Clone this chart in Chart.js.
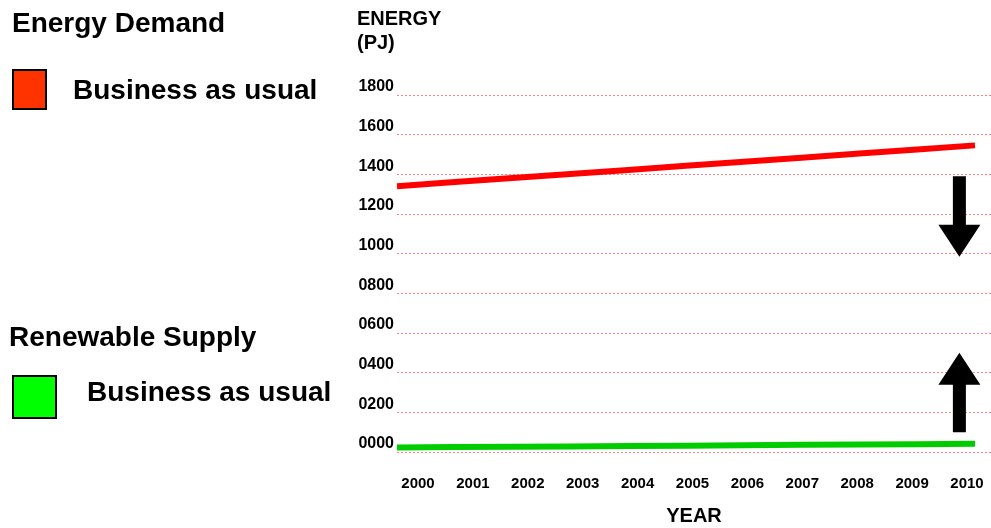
<!DOCTYPE html>
<html>
<head>
<meta charset="utf-8">
<title>Energy Demand and Renewable Supply</title>
<script src="https://cdn.jsdelivr.net/npm/chart.js@4.4.1/dist/chart.umd.min.js"></script>
<style>
  html, body { margin: 0; padding: 0; background: #fff; }
  #wrap {
    position: relative; width: 991px; height: 528px; overflow: hidden;
    font-family: "Liberation Sans", Arial, sans-serif; font-weight: bold; color: #000;
  }
  #wrap canvas { position: absolute; left: 0; top: 0; }
  .lbl { position: absolute; font-size: 28px; line-height: 28px; white-space: nowrap; }
  .sw { position: absolute; box-sizing: border-box; border: 2px solid #000; }
</style>
</head>
<body>
<div id="wrap">
  <canvas id="chart" width="991" height="528"></canvas>

  <div class="lbl" style="left:12px; top:9px;">Energy Demand</div>
  <div class="sw" style="left:12px; top:69px; width:35px; height:41px; background:#ff3300;"></div>
  <div class="lbl" style="left:73px; top:76px;">Business as usual</div>

  <div class="lbl" style="left:9px; top:323px;">Renewable Supply</div>
  <div class="sw" style="left:12px; top:375px; width:45px; height:44px; background:#00ff00;"></div>
  <div class="lbl" style="left:87px; top:378px;">Business as usual</div>
</div>

<script>
// Years on the horizontal axis
const years = [2000, 2001, 2002, 2003, 2004, 2005, 2006, 2007, 2008, 2009, 2010];

// Energy demand, business as usual (PJ)
const demandBAU = [1340, 1361, 1381, 1402, 1422, 1443, 1464, 1484, 1505, 1525, 1546];

// Renewable supply, business as usual (PJ)
const renewableBAU = [23, 25, 27, 28, 30, 32, 34, 36, 38, 39, 41];

// Energy axis tick values (PJ)
const energyTicks = [0, 200, 400, 600, 800, 1000, 1200, 1400, 1600, 1800];

const FONT = '"Liberation Sans", Arial, sans-serif';

// Solid block arrows placed in data units
const blockArrows = {
  id: 'blockArrows',
  afterDatasetsDraw(chart, args, opts) {
    const { ctx, scales } = chart;
    const xs = scales.x, ys = scales.y;
    opts.items.forEach(a => {
      const cx = xs.getPixelForValue(a.x);
      const y0 = ys.getPixelForValue(a.from);
      const y1 = ys.getPixelForValue(a.to);
      const dir = Math.sign(y1 - y0);
      const hb = y1 - dir * opts.headLength;
      ctx.save();
      ctx.fillStyle = opts.color;
      ctx.beginPath();
      ctx.moveTo(cx - opts.shaft / 2, y0);
      ctx.lineTo(cx + opts.shaft / 2, y0);
      ctx.lineTo(cx + opts.shaft / 2, hb);
      ctx.lineTo(cx + opts.head / 2, hb);
      ctx.lineTo(cx, y1);
      ctx.lineTo(cx - opts.head / 2, hb);
      ctx.lineTo(cx - opts.shaft / 2, hb);
      ctx.closePath();
      ctx.fill();
      ctx.restore();
    });
  }
};

const toPoints = arr => arr.map((v, i) => ({ x: i, y: v }));

new Chart(document.getElementById('chart'), {
  type: 'line',
  data: {
    datasets: [
      {
        label: 'Energy Demand – Business as usual',
        data: toPoints(demandBAU),
        borderColor: '#ff0000',
        borderWidth: 6,
        pointRadius: 0,
        tension: 0,
        clip: false
      },
      {
        label: 'Renewable Supply – Business as usual',
        data: toPoints(renewableBAU),
        borderColor: '#00cc00',
        borderWidth: 6,
        pointRadius: 0,
        tension: 0,
        clip: false
      }
    ]
  },
  plugins: [blockArrows],
  options: {
    responsive: false,
    animation: false,
    devicePixelRatio: 1,
    events: [],
    layout: { padding: { left: 357, right: 0, top: 0, bottom: 0 } },
    plugins: {
      legend: { display: false },
      tooltip: { enabled: false },
      title: {
        display: true,
        text: ['ENERGY', '(PJ)'],
        align: 'start',
        color: '#000',
        font: { family: FONT, size: 20, weight: 'bold', lineHeight: 1.2 },
        padding: { top: 7, bottom: 40 }
      },
      blockArrows: {
        color: '#000',
        shaft: 13,
        head: 42,
        headLength: 32,
        items: [
          { x: 9.73, from: 1390, to: 985 },
          { x: 9.73, from: 100, to: 500 }
        ]
      }
    },
    scales: {
      x: { type: 'linear', display: false, min: 0, max: 10.277 },
      yr: {
        type: 'linear',
        position: 'bottom',
        min: 1999.6175,
        max: 2010.437,
        afterBuildTicks: s => { s.ticks = years.map(v => ({ value: v })); },
        afterFit: s => { s.height = 76; },
        grid: { display: false, drawTicks: true, tickLength: 23 },
        border: { display: false },
        ticks: {
          padding: 0,
          maxRotation: 0,
          autoSkip: false,
          color: '#000',
          font: { family: FONT, size: 15, weight: 'bold' },
          callback: v => String(v)
        },
        title: {
          display: true,
          text: 'YEAR',
          color: '#000',
          font: { family: FONT, size: 20, weight: 'bold', lineHeight: 1.2 },
          padding: { top: 0, bottom: 0 }
        }
      },
      y: {
        type: 'linear',
        min: 0,
        max: 1800,
        afterBuildTicks: s => { s.ticks = energyTicks.map(v => ({ value: v })); },
        afterFit: s => { s.width = 40; },
        border: { display: false, dash: [2, 2] },
        grid: { color: '#ff8080', lineWidth: 1, drawTicks: false },
        ticks: {
          padding: 3,
          labelOffset: -8,
          color: '#000',
          font: { family: FONT, size: 16, weight: 'bold' },
          callback: v => String(v).padStart(4, '0')
        }
      }
    }
  }
});
</script>
</body>
</html>
